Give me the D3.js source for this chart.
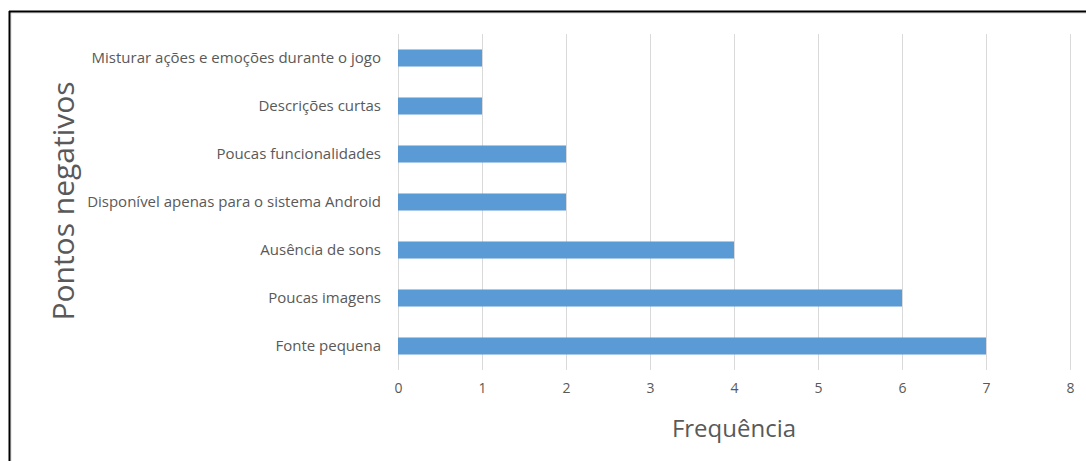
<!DOCTYPE html>
<html><head><meta charset="utf-8">
<script src="https://cdn.jsdelivr.net/npm/d3@7"></script>
<style>body{margin:0;background:#fff}svg{display:block}</style>
</head><body>
<script>
const categories = ["Misturar ações e emoções durante o jogo","Descrições curtas","Poucas funcionalidades","Disponível apenas para o sistema Android","Ausência de sons","Poucas imagens","Fonte pequena"];
const values = [1,1,2,2,4,6,7];
const ticks = [0,1,2,3,4,5,6,7,8];
const xTitle = "Frequência";
const yTitle = "Pontos negativos";

const W=1086,H=461;
const svg=d3.select("body").append("svg").attr("width",W).attr("height",H);
// frame
svg.append("line").attr("x1",9).attr("x2",W).attr("y1",13).attr("y2",13).attr("stroke","#d9d9d9").attr("stroke-width",1);
svg.append("line").attr("x1",11).attr("x2",11).attr("y1",12).attr("y2",H).attr("stroke","#d9d9d9").attr("stroke-width",1);
svg.append("line").attr("x1",9).attr("x2",W).attr("y1",11.5).attr("y2",11.5).attr("stroke","#000").attr("stroke-width",2);
svg.append("line").attr("x1",9.5).attr("x2",9.5).attr("y1",11).attr("y2",H).attr("stroke","#000").attr("stroke-width",2);

const x=d3.scaleLinear().domain([0,8]).range([398,1070]);
const y=d3.scaleBand().domain(categories).range([34,370]).paddingInner(0.645).paddingOuter(0.3225);

// gridlines
svg.append("g").selectAll("line").data(ticks).join("line")
 .attr("x1",d=>Math.round(x(d))+0.5).attr("x2",d=>Math.round(x(d))+0.5)
 .attr("y1",34).attr("y2",370).attr("stroke","#d9d9d9").attr("stroke-width",1);

// bars
svg.append("g").selectAll("rect").data(categories).join("rect")
 .attr("x",x(0)).attr("y",d=>y(d)).attr("height",y.bandwidth())
 .attr("width",(d,i)=>x(values[i])-x(0)).attr("fill","#5b9bd5");

// y labels
const yAxis=d3.axisLeft(y).tickSize(0).tickPadding(17);
const gy=svg.append("g").attr("transform",`translate(${x(0)},0)`).call(yAxis);
gy.select(".domain").remove();
gy.selectAll("text").attr("font-family","Open Sans, sans-serif").attr("font-size",15).attr("fill","#595959");

// x tick labels
const xAxis=d3.axisBottom(x).tickValues(ticks).tickSize(0).tickPadding(0);
const gx=svg.append("g").attr("transform","translate(0,383)").call(xAxis);
gx.select(".domain").remove();
gx.selectAll("text").attr("font-family","Open Sans, sans-serif").attr("font-size",14).attr("fill","#595959");

svg.append("text").attr("x",734).attr("y",437).attr("text-anchor","middle")
 .attr("font-family","Open Sans, sans-serif").attr("font-size",24).attr("fill","#595959").text(xTitle);
svg.append("text").attr("transform","translate(74,201) rotate(-90)").attr("text-anchor","middle")
 .attr("font-family","Open Sans, sans-serif").attr("font-size",30).attr("fill","#595959").text(yTitle);
</script>
</body></html>
